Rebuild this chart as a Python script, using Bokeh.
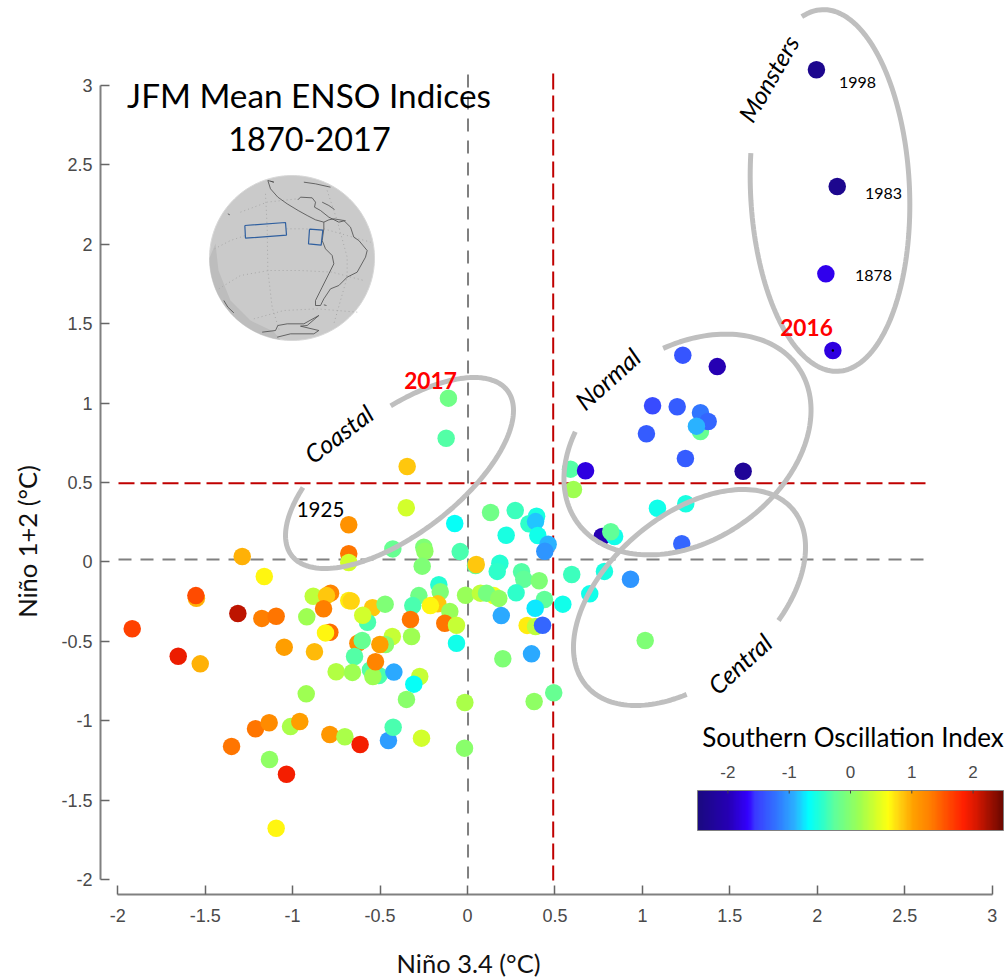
import numpy as np
from bokeh.embed import file_html
from bokeh.resources import INLINE
from bokeh.plotting import figure
from bokeh.models import (ColumnDataSource, LinearColorMapper, ColorBar, FixedTicker, Range1d)
from bokeh.core.properties import value
from bokeh.transform import transform

# ---- data -----------------------------------------------------------------
nino34 = [-0.679,-0.679,-0.679,-1.288,-1.162,-1.55,-1.553,-1.313,-1.176,-1.094,-1.917,-1.654,-1.528,-1.048,-0.875,
          -0.919,-0.882,-0.783,-0.806,-0.823,-0.787,-0.812,-0.679,-0.665,-0.543,-0.572,-0.599,-0.471,-0.43,-0.469,
          -0.627,-0.602,-0.501,-0.646,-0.751,-0.658,-0.555,-0.507,-0.541,-0.526,-0.421,-0.922,
          -1.349,-1.212,-1.134,-1.012,-0.959,-1.132,-1.035,-1.094,-0.787,-0.701,-0.614,-0.452,-0.425,
          -0.35,-0.073,0.132,0.273,0.395,0.351,0.389,0.221,0.402,0.461,0.442,-0.427,-0.25,-0.244,-0.042,
          0.046,0.05,0.185,0.17,-0.259,0.309,0.322,0.41,0.596,0.783,0.932,0.699,-0.164,-0.156,-0.278,-0.313,
          -0.17,-0.212,-0.011,0.074,0.15,0.109,0.179,0.278,0.44,0.545,0.387,0.193,-0.326,-0.101,-0.13,-0.063,
          0.341,0.389,0.429,-0.32,-0.063,0.366,0.202,-0.273,-0.307,-0.349,-0.015,0.381,0.493,1.016,-0.017,-0.263,
          1.231,1.428,1.058,1.199,1.332,1.332,1.376,1.309,1.023,1.246,0.589,0.675,1.576,0.606,1.086,1.248,
          0.77,0.841,0.819,1.225,1.995,2.114,2.049,2.089,-0.109,-0.122,-0.345]
nino12 = [0.234,0.051,-0.004,0.034,-0.092,-0.229,-0.212,-0.325,-0.356,-0.342,-0.421,-0.594,-0.642,-0.537,-0.566,
          -0.346,-0.216,-0.197,-0.212,-0.295,-0.443,-0.447,-0.243,-0.247,-0.289,-0.38,-0.336,-0.266,-0.47,-0.52,
          -0.512,-0.495,-0.52,-0.596,-0.692,-0.696,-0.68,-0.715,-0.722,-0.629,-0.694,-0.831,
          -1.162,-1.051,-1.013,-1.037,-1.005,-1.244,-1.337,-1.677,-1.087,-1.101,-1.15,-1.125,-1.041,
          0.341,0.242,0.311,0.324,0.288,0.24,0.254,0.168,0.166,0.111,0.067,0.082,0.093,0.067,0.065,
          -0.023,-0.016,-0.008,-0.06,-0.027,-0.062,-0.109,-0.119,-0.079,-0.06,-0.109,-0.201,-0.144,-0.188,-0.212,-0.275,
          -0.264,-0.275,-0.21,-0.197,-0.212,-0.197,-0.23,-0.195,-0.237,-0.266,-0.292,-0.338,-0.363,-0.312,-0.386,-0.399,
          -0.4,-0.407,-0.399,-0.47,-0.512,-0.579,-0.61,-0.722,-0.77,-0.866,-0.885,-0.879,-0.824,-0.495,-1.173,-1.11,
          1.302,1.23,0.983,0.977,0.939,0.821,0.884,0.855,0.807,0.651,0.584,0.574,0.571,0.456,0.338,0.366,
          0.16,0.16,0.19,0.114,3.099,2.364,1.814,1.331,1.031,0.779,0.601]
soi = [1.15,1.35,0.4,0.95,0.65,0.95,1.6,2.15,1.3,1.35,1.65,1.95,0.95,1.05,0.9,
       0.15,0.3,1.25,0.85,1.3,1.4,0.65,0.7,0.8,0.85,-0.35,0.4,-0.05,0.35,0.0,
       1.2,-0.2,1.05,-0.3,0.25,0.15,-0.3,-0.35,0.15,1.25,-0.95,0.15,
       1.35,1.35,1.2,0.2,1.05,0.05,1.9,0.65,1.1,0.2,1.9,-1.0,-0.35,
       0.4,-0.65,-0.15,-0.4,-0.55,-0.45,-0.85,-0.55,-0.6,-0.9,-1.05,-0.2,-0.05,0.05,-0.35,
       -0.2,0.85,-0.5,-0.45,-0.05,-0.3,-0.25,-0.05,-0.4,-0.55,-1.05,-0.6,-0.5,-0.05,-0.15,-0.35,
       0.85,0.65,0.1,0.3,0.55,-0.1,0.05,-0.45,-0.25,-0.6,-0.75,-0.95,1.35,0.1,1.35,0.35,
       0.7,0.3,-1.3,0.15,-0.6,-0.95,-0.05,0.35,-0.65,0.0,0.2,0.05,-0.2,-0.05,0.0,0.4,
       -1.4,-2.0,-1.45,-1.35,-1.2,-0.2,-1.3,-0.9,-1.35,-1.35,-0.3,-1.8,-2.25,0.15,-0.6,-0.55,
       -2.0,-0.6,-0.25,-1.3,-2.35,-2.35,-1.75,-1.8,-0.15,-0.3,0.85]
x_ticks = [-2,-1.5,-1,-0.5,0,0.5,1,1.5,2,2.5,3]
y_ticks = [-2,-1.5,-1,-0.5,0,0.5,1,1.5,2,2.5,3]
x_tick_labels = {-2:"-2",-1.5:"-1.5",-1:"-1",-0.5:"-0.5",0:"0",0.5:"0.5",1:"1",1.5:"1.5",2:"2",2.5:"2.5",3:"3"}
y_tick_labels = {-2:"-2",-1.5:"-1.5",-1:"-1",-0.5:"-0.5",0:"0",0.5:"0.5",1:"1",1.5:"1.5",2:"2",2.5:"2.5",3:"3"}
cbar_ticks = [-2,-1,0,1,2]

# colour scale
stops_soi = [-2.5,-2.0,-1.68,-1.56,-1.15,-0.9,-0.69,-0.52,-0.25,0.16,0.43,0.62,0.81,1.03,1.3,1.57,1.85,2.06,2.28,2.5]
stops_col = ["#1a0a80","#2600b4","#3300ff","#3a3aff","#3080ff","#2ab4ff","#00ffff","#20ffd8","#60ff9a","#a0ff50",
             "#d8ff28","#ffff10","#ffd010","#ffa000","#ff8000","#ff5000","#ff2000","#d81800","#a01000","#6b0800"]
def _rgb(h): return [int(h[i:i+2],16) for i in (1,3,5)]
_g = np.linspace(-2.5,2.5,256)
_c = np.array([_rgb(h) for h in stops_col],float)
palette = ["#%02x%02x%02x"%tuple(int(round(np.interp(v,stops_soi,_c[:,k]))) for k in range(3)) for v in _g]

# ---- page geometry -----------------------------------------------------------
W,H = 1005,978
X0,SX = 467.0,174.9               # page px of x=0, px per unit
Y0,SY = 561.4,158.8
fx = lambda px: (np.asarray(px,float)-X0)/SX
fy = lambda py: (Y0-np.asarray(py,float))/SY

p = figure(width=W,height=H,output_backend="svg",toolbar_location=None,
           x_range=Range1d(float(fx(0)),float(fx(W))),y_range=Range1d(float(fy(H)),float(fy(0))),
           min_border_left=0,min_border_bottom=0,min_border_top=0,min_border_right=0,
           background_fill_color="white",border_fill_color="white")
p.styles={"position":"absolute","left":"0px","top":"0px"}
p.outline_line_color=None
p.grid.visible=False

AX="#808080"; TX="#4a4a4a"
for ax,tk,lab in ((p.xaxis[0],x_ticks,x_tick_labels),(p.yaxis[0],y_ticks,y_tick_labels)):
    ax.ticker=FixedTicker(ticks=tk)
    ax.major_label_overrides=lab
    ax.bounds=(-2,3)
    ax.major_tick_in=9; ax.major_tick_out=0; ax.minor_tick_line_color=None
    ax.axis_line_color=AX; ax.axis_line_width=2
    ax.major_tick_line_color="#666666"; ax.major_tick_line_width=1.5
    ax.major_label_text_font="Liberation Sans"; ax.major_label_text_font_size="18px"
    ax.major_label_text_color=TX
p.xaxis[0].fixed_location=float(fy(894))
p.yaxis[0].fixed_location=float(fx(100))
p.xaxis[0].major_label_standoff=14
p.yaxis[0].major_label_standoff=8

# ---- globe --------------------------------------------------------------------
GZ=lambda pts:(fx([190+a/3 for a,b in pts]),fy([160+b/3 for a,b in pts]))
GC,GR=(291.5,257.5),82.5
_t=np.radians(np.linspace(0,360,181))
p.patch(fx(GC[0]+GR*np.cos(_t)),fy(GC[1]+GR*np.sin(_t)),fill_color="#cacaca",line_color="#d8d8d8",line_width=1)
_arc=[(GC[0]+GR*np.cos(np.radians(a)),GC[1]+GR*np.sin(np.radians(a))) for a in np.linspace(98,180,30)]
_in=[(215,243),(218,270),(230,300),(250,320),(273,331)]
_cr=_arc+_in
p.patch(fx([a for a,b in _cr]),fy([b for a,b in _cr]),fill_color="#bdbdbd",line_color=None)
grid_lines=[[(72,265),(120,240),(165,225)],[(288,205),(340,205),(395,208)],[(400,205),(470,225),(540,245)],
            [(85,385),(150,345),(235,330),(330,330),(425,335),(520,360)],
            [(190,475),(280,450),(380,445),(500,455)],[(150,155),(230,125),(320,115)],
            [(225,100),(230,200),(232,330),(245,440),(268,515)],
            [(410,90),(440,180),(470,290),(470,350),(430,490)]]
for g in grid_lines:
    xs,ys=GZ(g); p.line(xs,ys,line_color="#a8a8a8",line_width=1,line_dash="1 3")
coast=[[(232,60),(240,85),(262,110),(290,130),(323,150),(350,165),(375,178),(400,185)],
       [(232,60),(250,65),(240,62)],
       [(322,118),(330,110),(365,112),(375,125),(372,140),(390,150),(415,170),(445,185),(465,180)],
       [(395,125),(415,135),(432,147)],[(340,65),(375,70),(420,80)],
       [(400,185),(400,205),(395,240),(405,265),(425,285),(430,310),(415,340),(395,380),(375,420),(375,435),(390,435),
        (400,415),(420,385),(445,375),(470,350),(500,335),(525,290),(530,270),(505,240),(490,230),(480,200),(460,180),
        (430,175),(415,178),(400,185)],
       [(215,515),(255,510),(262,495),(290,490),(340,490),(385,465),(350,495),(330,497),(385,510),(370,520),(300,520),(260,530)],
       [(100,420),(112,440),(130,457)],[(112,160),(118,163)],[(400,433),(408,435)]]
for c in coast:
    xs,ys=GZ(c); p.line(xs,ys,line_color="#4a4a4a",line_width=0.8)
for b in ([(163,195),(285,186),(288,224),(165,233),(163,195)],[(357,206),(397,209),(392,254),(354,250),(357,206)]):
    xs,ys=GZ(b); p.line(xs,ys,line_color="#2f5f9f",line_width=1.2)

# ---- reference lines ------------------------------------------------------------
GREY="#808080"; RED="#c00000"
p.line([0.003,0.003],[fy(74),fy(878)],line_color=GREY,line_width=2,line_dash="13 9")
p.line([fx(118),fx(925)],[0.015,0.015],line_color=GREY,line_width=2,line_dash="13 9")
p.line([0.49,0.49],[fy(73),fy(880)],line_color=RED,line_width=2,line_dash="16 6")
p.line([fx(118),fx(925)],[0.495,0.495],line_color=RED,line_width=2,line_dash="16 6")

# ---- points ---------------------------------------------------------------------
mapper=LinearColorMapper(palette=palette,low=-2.5,high=2.5)
src=ColumnDataSource(dict(x=nino34,y=nino12,soi=soi))
p.scatter("x","y",source=src,size=17.5,marker="circle",fill_color=transform("soi",mapper),line_color=None)
p.scatter([nino34[nino12.index(1.331)]],[1.331],size=2.5,marker="circle",fill_color="black",line_color=None)

# ---- hand-drawn ellipses ---------------------------------------------------------
def arc(cx,cy,a,b,th,t0,t1):
    t=np.radians(np.linspace(t0,t1,160)); r=np.radians(th)
    x=cx+a*np.cos(t)*np.cos(r)-b*np.sin(t)*np.sin(r)
    y=cy+a*np.cos(t)*np.sin(r)+b*np.sin(t)*np.cos(r)
    p.line(fx(x),fy(y),line_color="#bfbfbf",line_width=5)
arc(829.5,190,181,79.5,87.5,165,463)
arc(687,444,135,96,-35,-74.9,231.2)
arc(399,472.5,135.8,60.6,-37.4,-75.6,231)
arc(689,597,135.8,81.8,-40.6,118.7,427.2)

# ---- texts ------------------------------------------------------------------------
def txt(s,px,py,size,angle=0,color="#000000",style="normal",font="Lato"):
    p.text([float(fx(px))],[float(fy(py))],text=[s],text_font=value(font),text_font_size=f"{size}px",
           text_font_style=style,text_color=color,text_align="center",text_baseline="middle",
           angle=np.radians(angle))
txt("JFM Mean ENSO Indices",308.5,94,33.3)
txt("1870-2017",309,138,32.4)
txt("Niño 3.4 (°C)",468,962,25.5,color="#111111")
txt("Niño 1+2 (°C)",26,541,25.5,90,color="#111111")
txt("Monsters",768,78,24.5,60,style="italic")
txt("Normal",607,378,25,42,style="italic")
txt("Coastal",338,433,25,37,style="italic")
txt("Central",739,663,25,42,style="italic")
txt("1998",857,82,16); txt("1983",883,193,16); txt("1878",873,275,16)
txt("2016",806,327,22.7,color="#ff0000",style="bold")
txt("2017",430,380,22.7,color="#ff0000",style="bold")
txt("1925",320,509,20.5)

# ---- colour bar -------------------------------------------------------------------
cb=ColorBar(color_mapper=mapper,orientation="horizontal",location=(697,H-830),width=306,height=40,padding=0,margin=0,
            ticker=FixedTicker(ticks=[]),major_tick_line_color=None,minor_tick_line_color=None,
            major_label_text_font_size="0px",bar_line_color="#808080",bar_line_width=1,
            background_fill_color=None,border_line_color=None)
p.add_layout(cb,"center")
txt("Southern Oscillation Index",852.5,736,26)
for v in cbar_ticks:
    px=850+61.3*v
    txt(str(v),px,771,17,color=TX,font="Liberation Sans")
    p.line([fx(px),fx(px)],[fy(790),fy(793)],line_color="#444444",line_width=1,level="overlay")

open("out.html","w").write(file_html(p,INLINE))
